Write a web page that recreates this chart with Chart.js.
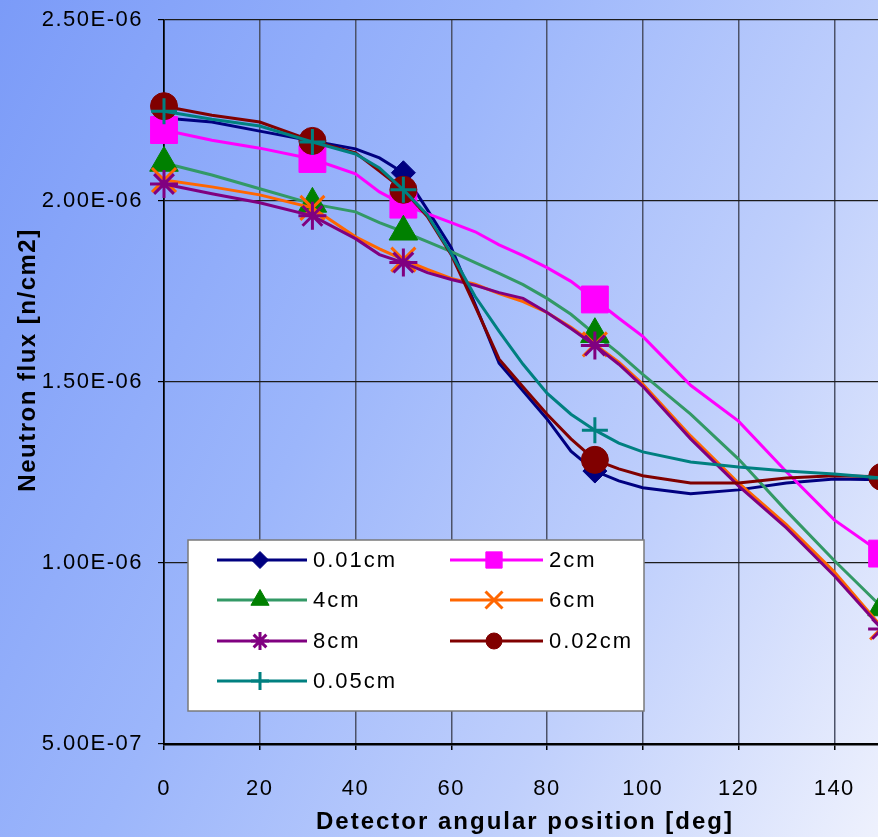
<!DOCTYPE html>
<html>
<head>
<meta charset="utf-8">
<script src="https://cdn.jsdelivr.net/npm/chart.js@4/dist/chart.umd.min.js"></script>
<style>
  html, body { margin: 0; padding: 0; width: 878px; height: 837px; overflow: hidden; background: #7b9bf8; }
  canvas { display: block; }
</style>
</head>
<body>
<canvas id="flux" width="960" height="837"></canvas>
<script>
// Detector angles (deg) at which the flux curves are sampled
const angles = [0, 10, 20, 31, 40, 45, 50, 55, 60, 65, 70, 75, 80, 85, 90, 95, 100, 110, 120, 130, 140, 150];
// Measured detector positions that carry a marker
const markerAngles = [0, 31, 50, 90, 150];

// Neutron flux in units of 1e-6 n/cm2, one array per thickness
const flux001cm = [2.229, 2.218, 2.193, 2.166, 2.144, 2.119, 2.078, 1.976, 1.871, 1.714, 1.552, 1.475, 1.398, 1.309, 1.254, 1.227, 1.208, 1.191, 1.202, 1.221, 1.232, 1.230];
const flux2cm    = [2.196, 2.168, 2.146, 2.116, 2.075, 2.025, 1.990, 1.965, 1.940, 1.915, 1.879, 1.849, 1.816, 1.778, 1.728, 1.676, 1.626, 1.491, 1.392, 1.252, 1.119, 1.026];
const flux4cm    = [2.105, 2.072, 2.034, 1.992, 1.970, 1.940, 1.915, 1.888, 1.860, 1.830, 1.800, 1.769, 1.731, 1.687, 1.632, 1.579, 1.521, 1.411, 1.287, 1.144, 1.007, 0.877];
const flux6cm    = [2.058, 2.039, 2.017, 1.981, 1.901, 1.868, 1.838, 1.811, 1.786, 1.770, 1.744, 1.722, 1.692, 1.651, 1.604, 1.555, 1.494, 1.351, 1.221, 1.106, 0.976, 0.822];
const flux8cm    = [2.047, 2.020, 1.995, 1.959, 1.896, 1.852, 1.830, 1.802, 1.783, 1.767, 1.747, 1.731, 1.692, 1.648, 1.601, 1.549, 1.488, 1.343, 1.213, 1.097, 0.965, 0.818];
const flux002cm  = [2.262, 2.237, 2.218, 2.166, 2.133, 2.083, 2.031, 1.957, 1.852, 1.709, 1.563, 1.486, 1.411, 1.343, 1.285, 1.260, 1.241, 1.221, 1.221, 1.235, 1.241, 1.238];
const flux005cm  = [2.248, 2.226, 2.207, 2.163, 2.130, 2.091, 2.031, 1.962, 1.855, 1.736, 1.640, 1.549, 1.469, 1.411, 1.367, 1.331, 1.307, 1.279, 1.265, 1.254, 1.246, 1.235];

const seriesNames = ['0.01cm', '2cm', '4cm', '6cm', '8cm', '0.02cm', '0.05cm'];
const seriesValues = [flux001cm, flux2cm, flux4cm, flux6cm, flux8cm, flux002cm, flux005cm];

const yTickValues = [5e-7, 1e-6, 1.5e-6, 2e-6, 2.5e-6];
const yTickLabels = ['5.00E-07', '1.00E-06', '1.50E-06', '2.00E-06', '2.50E-06'];
const xTickValues = [0, 20, 40, 60, 80, 100, 120, 140, 160];
const xTickLabels = ['0', '20', '40', '60', '80', '100', '120', '140', '160'];

const yTitle = 'Neutron flux [n/cm2]';
const xTitle = 'Detector angular position [deg]';

// Line and marker styling per series
const styles = [
  { line: '#000080', fill: '#000080', stroke: '#000080', shape: 'rectRot',  r: 12,   lr: 8.5, bw: 1 },
  { line: '#ff00ff', fill: '#ff00ff', stroke: '#ff00ff', shape: 'rect',     r: 19,   lr: 11.5, bw: 1 },
  { line: '#339966', fill: '#008000', stroke: '#008000', shape: 'triangle', r: 16.5, lr: 10.5, bw: 1 },
  { line: '#ff6600', fill: '#ff6600', stroke: '#ff6600', shape: 'crossRot', r: 17,   lr: 12, bw: 3 },
  { line: '#800080', fill: '#800080', stroke: '#800080', shape: 'star',     r: 14,   lr: 9,  bw: 3 },
  { line: '#800000', fill: '#800000', stroke: '#800000', shape: 'circle',   r: 13.5, lr: 8,  bw: 1 },
  { line: '#008080', fill: '#008080', stroke: '#008080', shape: 'cross',    r: 13,   lr: 9,  bw: 3 }
];

const FONT = "'Liberation Sans', Arial, sans-serif";

const datasets = seriesValues.map((vals, i) => {
  const s = styles[i];
  return {
    label: seriesNames[i],
    data: angles.map((a, k) => ({ x: a, y: vals[k] * 1e-6 })),
    borderColor: s.line,
    borderWidth: 3,
    tension: 0,
    fill: false,
    clip: false,
    order: -i,
    pointStyle: s.shape,
    pointBackgroundColor: s.fill,
    pointBorderColor: s.stroke,
    pointBorderWidth: s.bw,
    pointRadius: c => (markerAngles.includes(c.raw.x) ? s.r : 0),
    pointHoverRadius: c => (markerAngles.includes(c.raw.x) ? s.r : 0)
  };
});

// Panel background: soft diagonal blue gradient; tick text gets a little tracking
const backgroundPlugin = {
  id: 'panelBackground',
  beforeDraw(chart) {
    const ctx = chart.ctx;
    const g = ctx.createLinearGradient(0, 0, 1037, 518);
    g.addColorStop(0, '#7b9bf8');
    g.addColorStop(0.4, '#9cb6fb');
    g.addColorStop(0.7, '#bfcffc');
    g.addColorStop(1, '#eef1fd');
    ctx.save();
    ctx.fillStyle = g;
    ctx.fillRect(0, 0, chart.width, chart.height);
    ctx.restore();
    ctx.letterSpacing = '1.5px';
  }
};

// Axis titles
const titlePlugin = {
  id: 'axisTitles',
  afterDraw(chart) {
    const ctx = chart.ctx;
    ctx.save();
    ctx.letterSpacing = '2px';
    ctx.fillStyle = '#000';
    ctx.font = 'bold 24px ' + FONT;
    ctx.textAlign = 'center';
    ctx.textBaseline = 'middle';
    ctx.fillText(xTitle, 525, 822);
    ctx.translate(28, 360);
    ctx.rotate(-Math.PI / 2);
    ctx.letterSpacing = '1.5px';
    ctx.fillText(yTitle, 0, 0);
    ctx.restore();
  }
};

// Boxed legend with a line sample and its marker for every series
const legendPlugin = {
  id: 'boxLegend',
  afterDraw(chart) {
    const ctx = chart.ctx;
    const box = { x: 188, y: 540, w: 456, h: 171 };
    const rows = [560, 600, 641, 681];
    const cols = [{ l: 217, r: 307, m: 260, t: 313 }, { l: 450, r: 543, m: 494, t: 549 }];
    ctx.save();
    ctx.fillStyle = '#ffffff';
    ctx.fillRect(box.x, box.y, box.w, box.h);
    ctx.strokeStyle = '#7a7a7a';
    ctx.lineWidth = 1.5;
    ctx.strokeRect(box.x, box.y, box.w, box.h);
    const drawPoint = Chart.helpers && Chart.helpers.drawPoint;
    chart.data.datasets.forEach((ds, i) => {
      const s = styles[i];
      const row = rows[Math.floor(i / 2)];
      const col = cols[i % 2];
      ctx.strokeStyle = s.line;
      ctx.lineWidth = 3;
      ctx.beginPath();
      ctx.moveTo(col.l, row);
      ctx.lineTo(col.r, row);
      ctx.stroke();
      if (drawPoint) {
        ctx.fillStyle = s.fill;
        ctx.strokeStyle = s.stroke;
        ctx.lineWidth = s.bw;
        drawPoint(ctx, { pointStyle: s.shape, rotation: 0, radius: s.lr, borderWidth: s.bw }, col.m, row);
      }
      ctx.fillStyle = '#000';
      ctx.font = '22px ' + FONT;
      ctx.letterSpacing = '2px';
      ctx.textAlign = 'left';
      ctx.textBaseline = 'middle';
      ctx.fillText(ds.label, col.t, row + 1);
    });
    ctx.restore();
  }
};

new Chart(document.getElementById('flux'), {
  type: 'line',
  data: { datasets },
  plugins: [backgroundPlugin, titlePlugin, legendPlugin],
  options: {
    responsive: false,
    animation: false,
    events: [],
    layout: { padding: { top: 18, left: 0, right: 30, bottom: 0 } },
    plugins: { legend: { display: false }, tooltip: { enabled: false } },
    scales: {
      x: {
        type: 'linear',
        min: 0,
        max: 160,
        afterFit(s) { s.height = 93; s.paddingLeft = 0; s.paddingRight = 0; },
        afterBuildTicks(s) { s.ticks = xTickValues.map(v => ({ value: v })); },
        ticks: {
          color: '#000',
          font: { family: FONT, size: 22 },
          padding: 26,
          maxRotation: 0,
          callback: (v, i) => xTickLabels[i]
        },
        grid: {
          color: c => (c.tick && c.tick.value === 0 ? '#000' : '#4c5268'),
          lineWidth: 1.5,
          tickLength: 6,
          tickColor: '#000'
        },
        border: { color: '#000', width: 2.5 }
      },
      y: {
        type: 'linear',
        min: 5e-7,
        max: 2.5e-6,
        afterFit(s) { s.width = 164; s.paddingTop = 0; s.paddingBottom = 0; },
        afterBuildTicks(s) { s.ticks = yTickValues.map(v => ({ value: v })); },
        ticks: {
          color: '#000',
          font: { family: FONT, size: 22 },
          padding: 15,
          callback: (v, i) => yTickLabels[i]
        },
        grid: {
          color: '#1c1c1c',
          lineWidth: 1.2,
          tickLength: 6,
          tickColor: '#000'
        },
        border: { color: '#000', width: 1.5 }
      }
    }
  }
});
</script>
</body>
</html>
